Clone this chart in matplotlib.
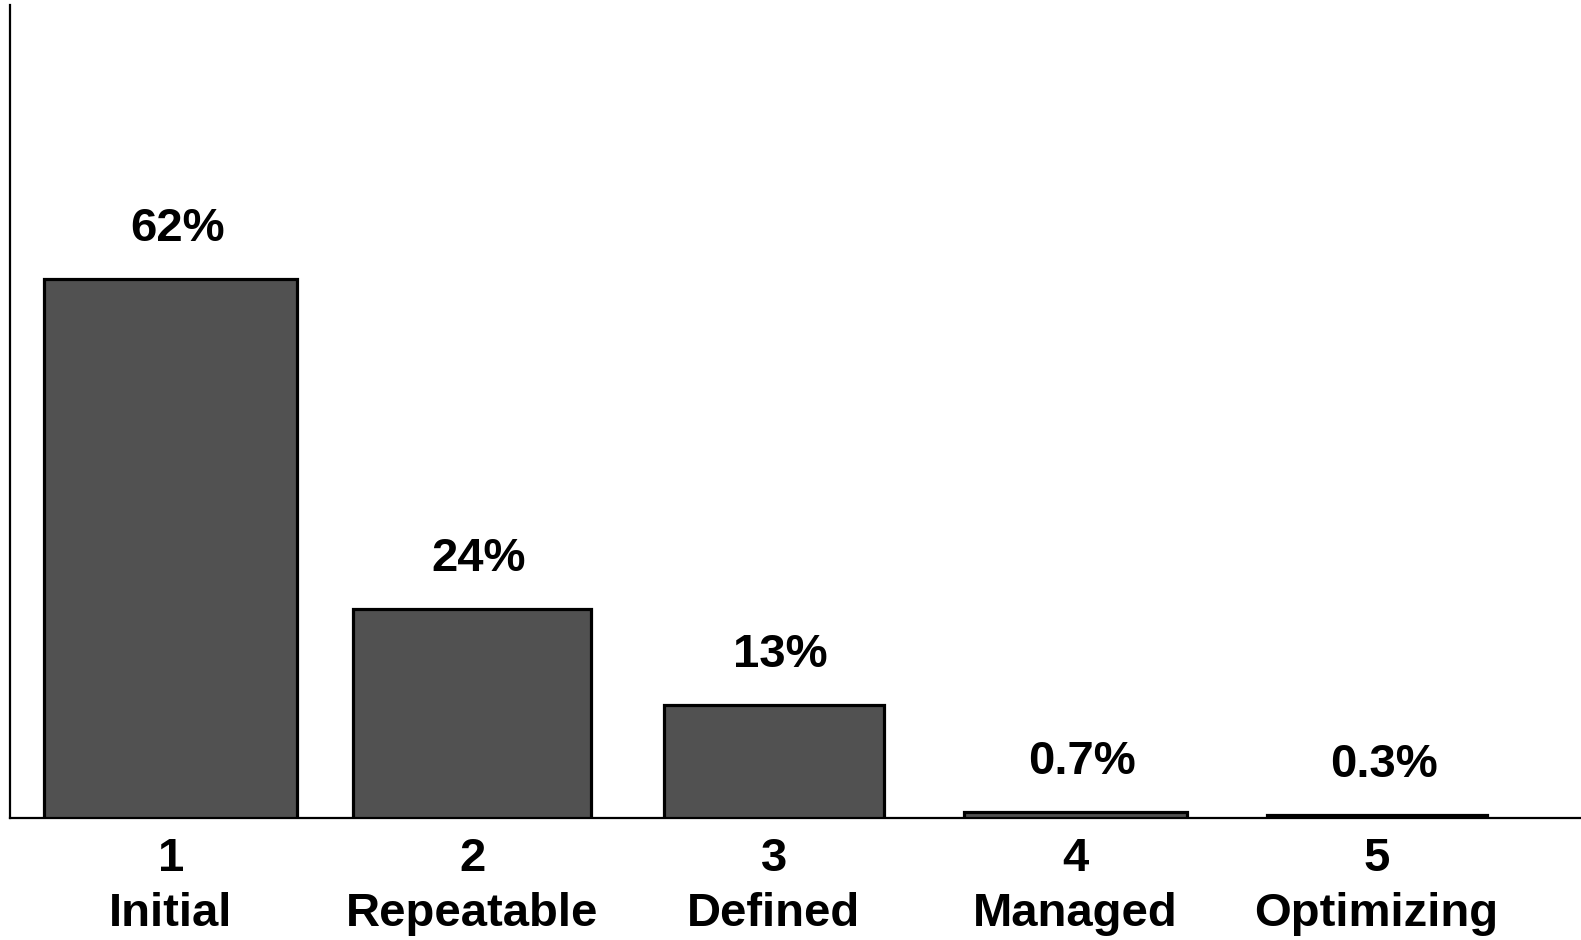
import numpy as np
import matplotlib
matplotlib.use("Agg")
import matplotlib.pyplot as plt

# maturity levels and share of organisations at each one
levels = ["1", "2", "3", "4", "5"]
names = ["Initial", "Repeatable", "Defined", "Managed", "Optimizing"]
shares = [62, 24, 13, 0.7, 0.3]
share_labels = ["62%", "24%", "13%", "0.7%", "0.3%"]

bar_widths = [0.84, 0.79, 0.73, 0.74, 0.73]

plt.rcParams['font.family'] = ['Liberation Sans', 'DejaVu Sans']

fig = plt.figure(figsize=(15.81, 9.40), dpi=100)
ax = fig.add_axes([10 / 1581, 122 / 940, 1 - 10 / 1581, 813 / 940])

x = np.arange(len(levels))
bars = ax.bar(x, shares, width=bar_widths, color="#515151",
              edgecolor="black", linewidth=2.3, zorder=3)

for rect, lab in zip(bars, share_labels):
    ax.annotate(lab, (rect.get_x() + rect.get_width() / 2, rect.get_height()),
                xytext=(5, 36), textcoords="offset points",
                ha="center", va="center", fontsize=34, fontweight="bold")

ax.set_xticks(x)
ax.set_xticklabels([f"{l}\n{n}" for l, n in zip(levels, names)],
                   fontsize=34, fontweight="bold", linespacing=1.32)
ax.tick_params(axis="x", length=0, pad=14)
ax.set_yticks([])

ax.set_xlim(-0.533, 4.678)
ax.set_ylim(0, 93.5)

for side in ["top", "right"]:
    ax.spines[side].set_visible(False)
ax.spines["left"].set_linewidth(1.6)
ax.spines["bottom"].set_linewidth(1.6)

fig.savefig("out.png", dpi=100)
